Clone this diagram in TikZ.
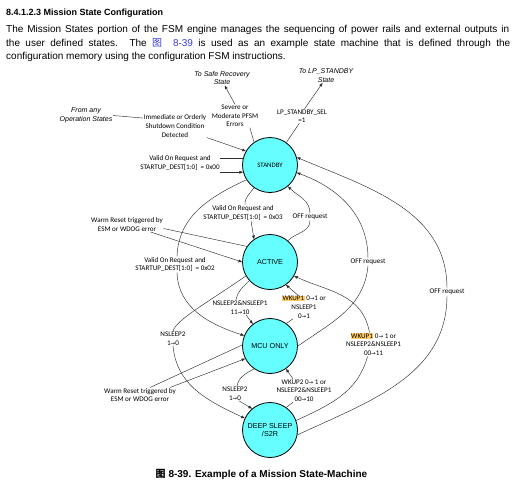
\documentclass[tikz,border=0pt]{standalone}
\usepackage{fontspec}
\setmainfont{Liberation Sans}
\newfontfamily\calf{Carlito}
\newfontfamily\cjkf{Noto Sans CJK SC}
\newfontfamily\symf{DejaVu Sans}
\usetikzlibrary{arrows.meta}
\definecolor{stfill}{RGB}{102,255,255}
\definecolor{hlc}{RGB}{255,204,102}
\definecolor{linkc}{RGB}{60,60,220}
\definecolor{lnc}{RGB}{45,45,45}
\newcommand\ra{{\symf\fontsize{5.5}{6}\selectfont\char"2192}}
\newcommand\hlw[1]{{\setlength{\fboxsep}{0.4pt}\colorbox{hlc}{#1}}}
\begin{document}
\begin{tikzpicture}[x=1pt,y=1pt,
  fsm/.style={circle,draw=black,line width=0.8pt,fill=stfill,minimum size=55pt,inner sep=0pt,font=\fontsize{7.2}{8.5}\selectfont,align=center},
  lbl/.style={font=\calf\fontsize{7.1}{8.6}\selectfont,align=center,inner sep=0.5pt},
  ital/.style={font=\fontsize{7}{8.5}\selectfont\itshape,align=center,inner sep=0.5pt},
  conn/.style={draw=lnc,line width=0.45pt},
  arr/.style={conn,-{Triangle[length=3.6pt,width=2.8pt]}},
  para/.style={anchor=base west,inner sep=0pt,font=\fontsize{10}{12}\selectfont}
]
\path[use as bounding box] (0,0) rectangle (530,-480);

% header text
\node[anchor=base west,inner sep=0pt,font=\bfseries\fontsize{9}{11}\selectfont] (hd) at (6,-15) {8.4.1.2.3 Mission State Configuration};
\node[para] (p1) at (6,-32.5) {\makebox[503pt][s]{The Mission States portion of the FSM engine manages the sequencing of power rails and external outputs in}};
\node[para] (p2) at (6,-46) {\makebox[504pt][s]{the user defined states. The \textcolor{linkc}{{\cjkf 图}\ \ 8-39} is used as an example state machine that is defined through the}};
\node[para] (p3) at (6,-59.5) {configuration memory using the configuration FSM instructions.};

% states
\node[fsm,font=\calf\fontsize{6.8}{8}\selectfont] (S) at (270,-165) {STANDBY};
\node[fsm] (A) at (270,-262) {ACTIVE};
\node[fsm] (M) at (270,-346) {MCU ONLY};
\node[fsm] (D) at (270,-430) {DEEP SLEEP\\/S2R};

% labels
\node[ital] (fa) at (86,-115.5) {From any\\Operation States};
\node[lbl] (imm) at (175,-126) {Immediate or Orderly\\Shutdown Condition\\Detected};
\node[lbl] (sev) at (235,-116) {Severe or\\Moderate PFSM\\Errors};
\node[ital] (safe) at (222,-78) {To Safe Recovery\\State};
\node[ital] (tolp) at (326,-75.5) {To LP\_STANDBY\\State};
\node[lbl] (lp) at (302,-116) {LP\_STANDBY\_SEL\\=1};
\node[lbl] (v00) at (180,-163) {Valid On Request and\\STARTUP\_DEST[1:0] \ = 0x00};
\node[lbl] (v03) at (243,-213) {Valid On Request and\\STARTUP\_DEST[1:0] \ = 0x03};
\node[lbl] (offa) at (310,-217) {OFF request};
\node[lbl] (wr1) at (127,-224.5) {Warm Reset triggered by\\ESM or WDOG error};
\node[lbl] (v02) at (175,-264.5) {Valid On Request and\\STARTUP\_DEST[1:0] \ = 0x02};
\node[lbl] (offb) at (368,-262) {OFF request};
\node[lbl] (offc) at (447,-292) {OFF request};
\node[lbl] (ns1) at (240,-307.5) {NSLEEP2\&NSLEEP1\\11\ra10};
\node[lbl] (wka) at (304,-307) {\hlw{WKUP1} 0\ra1 or\\NSLEEP1\\0\ra1};
\node[lbl] (ns3) at (173,-338.5) {NSLEEP2\\1\ra0};
\node[lbl] (wkc) at (373.5,-344.5) {\hlw{WKUP1} 0\ra\ 1 or\\NSLEEP2\&NSLEEP1\\00\ra11};
\node[lbl] (wkb) at (304,-390.5) {WKUP2 0\ra\ 1 or\\NSLEEP2\&NSLEEP1\\00\ra10};
\node[lbl] (ns2) at (235,-393.5) {NSLEEP2\\1\ra0};
\node[lbl] (wr2) at (140,-395) {Warm Reset triggered by\\ESM or WDOG error};

% caption
\node[anchor=base,inner sep=0pt,font=\bfseries\fontsize{10}{12}\selectfont] (cap) at (261.5,-477) {{\cjkf 图} 8-39. Example of a Mission State-Machine};

% connectors around STANDBY
\draw[conn] (fa.east) -- (imm.166);
\draw[arr] (imm.340) -- (S.150);
\draw[conn] (S.125) -- (sev.-38);
\draw[arr] (sev.north) -- (safe.-70);
\draw[conn] (S.54) -- (lp.-110);
\draw[arr] (lp.70) -- (tolp.-115);
\draw[conn] (S.165) -- (S.165 -| v00.east);
\draw[arr] (S.195 -| v00.east) -- (S.195);

% STANDBY -> ACTIVE
\draw[conn] (S.235) to[out=235,in=95] ([xshift=2pt]v03.north);
\draw[arr] ([xshift=8pt]v03.south) -- (A.125);
% ACTIVE -> STANDBY
\draw[conn] (A.50) to[out=45,in=-90] (offa.south);
\draw[arr] (offa.north) to[out=90,in=-45] (S.-50);
% MCU -> STANDBY
\draw[conn] (M.0) to[out=35,in=-95] (offb.south);
\draw[arr] (offb.north) to[out=90,in=-20] (S.-16);
% DEEP SLEEP -> STANDBY
\draw[conn] (D.-10) to[out=25,in=-90] (offc.south);
\draw[arr] (offc.north) to[out=90,in=-23] (S.16);
% DEEP SLEEP -> ACTIVE
\draw[conn] (D.20) to[out=25,in=-105] ([xshift=-6pt]wkc.south);
\draw[arr] ([xshift=-4pt]wkc.north) to[out=100,in=-25,out distance=40pt] (A.-30);
% MCU -> ACTIVE
\draw[conn] (M.54) -- ([xshift=-11pt]wka.south);
\draw[arr] ([xshift=-6pt]wka.north) -- (A.-55);
% DEEP SLEEP -> MCU
\draw[conn] (D.54) -- ([xshift=-11pt]wkb.south);
\draw[arr] ([xshift=-11pt]wkb.north) -- (M.-55);
% ACTIVE -> MCU
\draw[conn] (A.222) to[out=225,in=80] ([xshift=-4pt]ns1.north);
\draw[arr] ([xshift=6pt]ns1.south) -- (M.128);
% MCU -> DEEP SLEEP
\draw[conn] (M.235) to[out=210,in=80] ([xshift=2pt]ns2.north);
\draw[arr] ([xshift=4pt]ns2.south) -- (D.130);
% warm resets
\draw[conn] ([yshift=-4pt]wr1.east) -- (A.146);
\draw[arr] ([xshift=-13pt]wr1.south east) -- (A.180);
\draw[conn] ([xshift=10pt]wr2.north) -- (M.178);
\draw[arr] ([xshift=30pt]wr2.north) -- (M.207);
% STANDBY -> MCU
\draw[conn] (S.212) to[out=205,in=88] ([xshift=2pt]v02.north);
\draw[arr] ([xshift=2pt]v02.south) to[out=-88,in=162] (M.158);
% ACTIVE -> DEEP SLEEP
\draw[conn] (A.210) to[out=215,in=75,out distance=45pt,in distance=12pt] (ns3.north);
\draw[arr] (ns3.south) to[out=-85,in=155] (D.155);
\end{tikzpicture}
\end{document}
